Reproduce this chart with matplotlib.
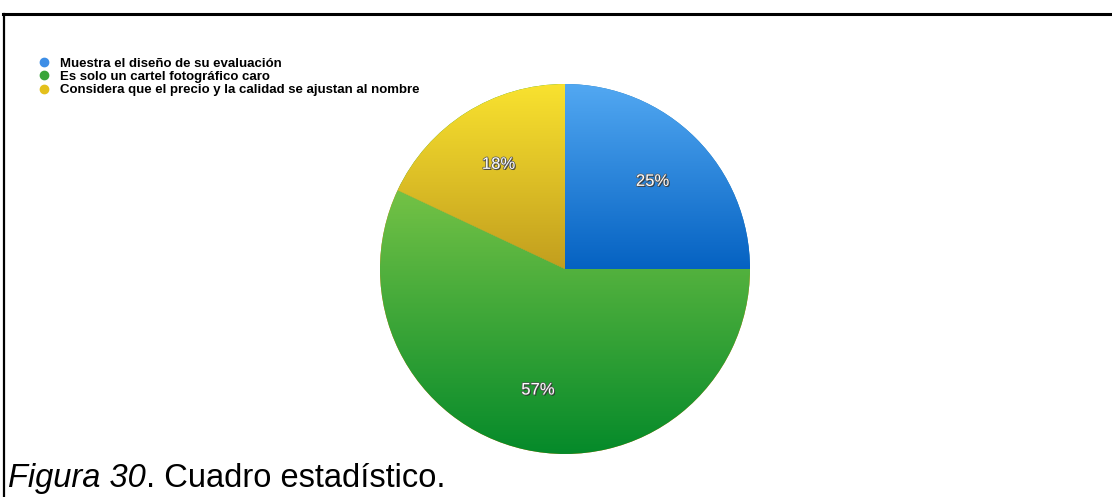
import matplotlib
matplotlib.use("Agg")
import matplotlib.pyplot as plt
import matplotlib.patheffects as pe
import numpy as np
from matplotlib.colors import LinearSegmentedColormap
from matplotlib.lines import Line2D

plt.rcParams["font.family"] = ["Liberation Sans", "DejaVu Sans"]

labels = [
    "Muestra el diseño de su evaluación",
    "Es solo un cartel fotográfico caro",
    "Considera que el precio y la calidad se ajustan al nombre",
]
values = [25, 57, 18]
# light (top) -> dark (bottom) shade of each slice
shades = [("#52a8f2", "#0562c2"), ("#74c246", "#058a2a"), ("#f9e22f", "#c29e1e")]
legend_colors = ["#3d8ee6", "#3aa53a", "#e4c01c"]

W, H = 1112, 497
fig = plt.figure(figsize=(W / 100, H / 100), dpi=100)

# pie axes, square in pixels
cx, cy, r = 565, 269, 185
ax = fig.add_axes([(cx - r) / W, (H - cy - r) / H, 2 * r / W, 2 * r / H])
wedges, _, pcts = ax.pie(
    values,
    startangle=90,
    counterclock=False,
    autopct="%1.0f%%",
    pctdistance=0.67,
    wedgeprops=dict(linewidth=0, antialiased=True),
    textprops=dict(color="white", fontsize=12),
)
ax.set_xlim(-1, 1)
ax.set_ylim(-1, 1)
ax.set_aspect("equal")
ax.axis("off")

# vertical gradient fill inside every wedge
for w, (top, bot) in zip(wedges, shades):
    th = np.radians(np.linspace(w.theta1, w.theta2, 200))
    ys = np.concatenate([np.sin(th) * w.r, [0]])
    y0, y1 = ys.min(), ys.max()
    cmap = LinearSegmentedColormap.from_list("g", [bot, top])
    grad = np.linspace(0, 1, 256).reshape(-1, 1)
    im = ax.imshow(grad, cmap=cmap, extent=(-1, 1, y0, y1), origin="lower",
                   aspect="auto", zorder=w.get_zorder() + 0.1)
    im.set_clip_path(w)
ax.set_xlim(-1, 1)
ax.set_ylim(-1, 1)

for t in pcts:
    t.set_zorder(5)
    t.set_path_effects([pe.withSimplePatchShadow(offset=(0.8, -0.8), shadow_rgbFace="#222222", alpha=0.8),
                        pe.withStroke(linewidth=1.0, foreground="#555555")])

# legend in the top-left corner
handles = [Line2D([], [], marker="o", linestyle="none", markersize=6,
                  markerfacecolor=c, markeredgecolor=c) for c in legend_colors]
fig.legend(handles, labels, loc="upper left", bbox_to_anchor=(37.4 / W, 1 - 57.5 / H),
           frameon=False, labelspacing=0.08, handletextpad=0.71,
           handlelength=1.0, borderpad=0, borderaxespad=0,
           prop=dict(weight="bold", size=9.5))

# frame lines
fig.add_artist(Line2D([3 / W, 1], [1 - 14 / H, 1 - 14 / H], color="black", linewidth=2.2))
fig.add_artist(Line2D([4 / W, 4 / W], [1 - 14 / H, 0], color="black", linewidth=1.6))

# caption: italic figure number followed by plain text
t1 = fig.text(8 / W, 1 - 487 / H, "Figura 30", fontsize=23.5, style="italic",
              va="baseline", color="black")
fig.canvas.draw()
bb = t1.get_window_extent()
fig.text(bb.x1 / W, 1 - 487 / H, ". Cuadro estadístico.", fontsize=23.5,
         va="baseline", color="black")

fig.savefig("out.png", dpi=100)
